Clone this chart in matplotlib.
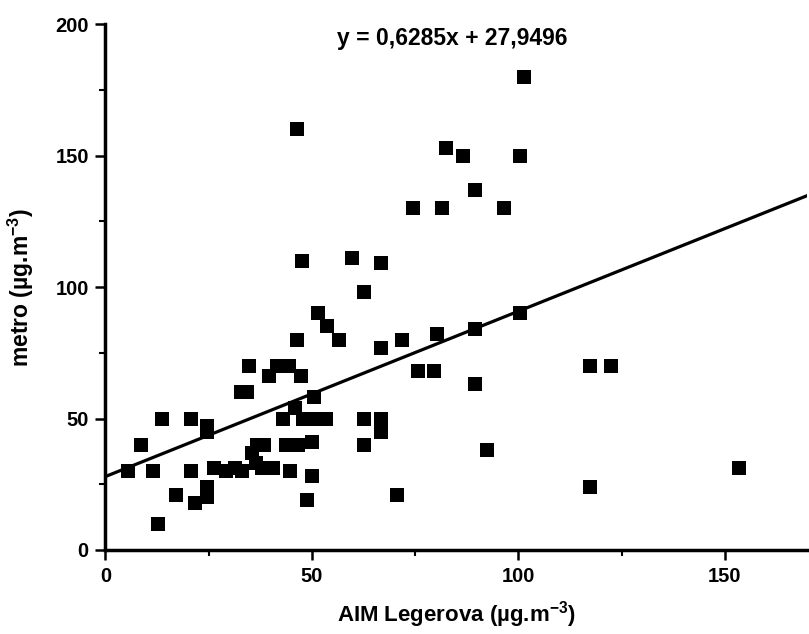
import numpy as np
import matplotlib
matplotlib.use('Agg')
import matplotlib.pyplot as plt
from matplotlib.ticker import MultipleLocator

# AIM Legerova vs metro, ug/m3
aim = [5.5, 8.7, 11.6, 13.7, 12.6, 17.1, 20.8, 20.8, 21.7, 24.6,
       24.6, 24.6, 24.6, 26.3, 29.2, 31.3, 33.0, 32.8, 34.2, 34.7,
       35.5, 36.8, 38.5, 36.5, 38.0, 40.5, 39.7, 41.5, 44.4, 47.3,
       46.4, 46.4, 47.6, 43.0, 45.8, 43.8, 46.6, 50.0, 44.8, 50.0,
       48.8, 47.8, 50.6, 53.5, 50.6, 51.4, 53.6, 56.5, 59.7, 62.6,
       62.7, 62.7, 66.8, 66.8, 66.7, 66.7, 70.5, 71.7, 74.4, 75.6,
       79.5, 80.4, 81.4, 82.4, 86.5, 89.6, 89.6, 89.6, 92.5, 96.4,
       100.5, 100.5, 101.4, 117.4, 122.5, 117.4, 153.5]
metro = [30, 40, 30, 50, 10, 21, 50, 30, 18, 24,
         20, 47, 45, 31, 30, 31, 30, 60, 60, 70,
         37, 40, 40, 33, 31, 31, 66, 70, 70, 66,
         80, 160, 110, 50, 54, 40, 40, 41, 30, 28,
         19, 50, 50, 50, 58, 90, 85, 80, 111, 98,
         50, 40, 50, 45, 77, 109, 21, 80, 130, 68,
         68, 82, 130, 153, 150, 137, 84, 63, 38, 130,
         150, 90, 180, 70, 70, 24, 31]

slope = 0.6285
intercept = 27.9496

plt.rcParams['font.family'] = ['Liberation Sans', 'DejaVu Sans']
plt.rcParams['font.weight'] = 'bold'
plt.rcParams['mathtext.fontset'] = 'custom'
plt.rcParams['mathtext.rm'] = 'Liberation Sans:bold'
plt.rcParams['mathtext.it'] = 'Liberation Sans:bold'
plt.rcParams['mathtext.bf'] = 'Liberation Sans:bold'

fig = plt.figure(figsize=(8.09, 6.34), dpi=100)
ax = fig.add_axes([0.1304, 0.1325, 0.8676, 0.8295])

ax.scatter(aim, metro, marker='s', s=100, color='black', linewidths=0, zorder=3)
xs = np.array([0, 170])
ax.plot(xs, slope * xs + intercept, color='black', lw=2.3, zorder=2)

ax.set_xlim(0, 170)
ax.set_ylim(0, 200)
ax.xaxis.set_major_locator(MultipleLocator(50))
ax.xaxis.set_minor_locator(MultipleLocator(25))
ax.yaxis.set_major_locator(MultipleLocator(50))
ax.yaxis.set_minor_locator(MultipleLocator(25))

for side in ['top', 'right']:
    ax.spines[side].set_visible(False)
for side in ['left', 'bottom']:
    ax.spines[side].set_linewidth(2.5)

ax.tick_params(which='major', direction='out', length=7, width=1.8,
               labelsize=14.5, pad=5)
ax.tick_params(which='minor', direction='out', length=4, width=1.5)
for lab in ax.get_xticklabels() + ax.get_yticklabels():
    lab.set_fontweight('bold')

ax.set_xlabel('AIM Legerova (\u00b5g.m$^{-3}$)', fontsize=16,
              fontweight='bold', labelpad=10)
ax.set_ylabel('metro (\u00b5g.m$^{-3}$)', fontsize=16.5,
              fontweight='bold', labelpad=14)

fig.text(0.559, 0.94, 'y = 0,6285x + 27,9496', fontsize=16.5,
         fontweight='bold', ha='center', va='center')

fig.savefig('out.png', dpi=100)
